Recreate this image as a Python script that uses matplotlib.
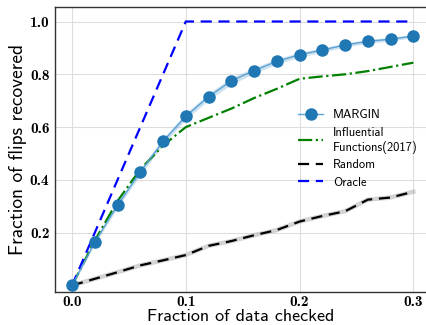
import numpy as np
import matplotlib
matplotlib.use('Agg')
import matplotlib.pyplot as plt

x = [0.0, 0.02, 0.04, 0.06, 0.08, 0.10, 0.12, 0.14, 0.16, 0.18, 0.20, 0.22, 0.24, 0.26, 0.28, 0.30]
margin = [0.0, 0.164, 0.304, 0.43, 0.546, 0.641, 0.715, 0.775, 0.814, 0.849, 0.874, 0.892, 0.911, 0.925, 0.933, 0.945]
margin_err = [0.004, 0.008, 0.01, 0.012, 0.012, 0.012, 0.013, 0.013, 0.011, 0.01, 0.009, 0.008, 0.008, 0.007, 0.007, 0.006]
influence = [0.0, 0.17, 0.32, 0.44, 0.53, 0.60, 0.635, 0.67, 0.71, 0.745, 0.783, 0.792, 0.80, 0.812, 0.828, 0.844]
random_ = [0.0, 0.025, 0.05, 0.076, 0.095, 0.115, 0.15, 0.168, 0.19, 0.21, 0.242, 0.263, 0.281, 0.325, 0.333, 0.355]
oracle_x = [0.0, 0.1, 0.3]
oracle = [0.0, 1.0, 1.0]

xticks = [0.0, 0.1, 0.2, 0.3]
yticks = [0.2, 0.4, 0.6, 0.8, 1.0]

fig = plt.figure(figsize=(4.27, 3.25), dpi=100)
ax = fig.add_axes([0.1288, 0.1015, 0.8712, 0.8770])

lo = np.array(margin) - np.array(margin_err)
hi = np.array(margin) + np.array(margin_err)
ax.fill_between(x, lo, hi, color='#1f77b4', alpha=0.22, lw=0)
ax.plot(x, margin, color='#5aa2d6', lw=1.0, marker='o', ms=8,
        mfc='#1f77b4', mec='#1f77b4', label='MARGIN', zorder=4)
ax.plot(x, influence, color='green', lw=1.6, ls='-.',
        label='Influential\nFunctions(2017)', zorder=3)
ax.plot(x, random_, color='#aaaaaa', lw=3.2, alpha=0.5, zorder=2)
ax.plot(x, random_, color='black', lw=1.6, ls=(0, (5, 3)), label='Random', zorder=3)
ax.plot(oracle_x, oracle, color='blue', lw=1.6, ls=(0, (5, 3)), label='Oracle', zorder=3)

ax.set_xlim(-0.015, 0.312)
ax.set_ylim(-0.025, 1.055)
ax.set_xticks(xticks)
ax.set_yticks(yticks)
ax.set_xticklabels(['%.1f' % v for v in xticks], fontname='cmb10', fontsize=11)
ax.set_yticklabels(['%.1f' % v for v in yticks], fontname='cmb10', fontsize=11)
ax.grid(True, color='#dddddd', lw=0.8)
ax.set_axisbelow(True)
ax.spines['right'].set_visible(False)
for s in ['left', 'bottom', 'top']:
    ax.spines[s].set_color('#333333')
    ax.spines[s].set_linewidth(1.0)
ax.tick_params(axis='x', length=0, pad=2)
ax.tick_params(axis='y', length=0, pad=4)

ax.set_xlabel('Fraction of data checked', fontname='cmss10', fontsize=13, labelpad=0)
ax.set_ylabel('Fraction of flips recovered', fontname='cmss10', fontsize=14, labelpad=2)

leg = ax.legend(loc='upper left', bbox_to_anchor=(0.64, 0.66), frameon=False,
                prop={'family': 'cmss10', 'size': 9}, handlelength=2.0,
                labelspacing=0.45, handletextpad=0.8, borderaxespad=0)

fig.savefig('out.png', dpi=100)
